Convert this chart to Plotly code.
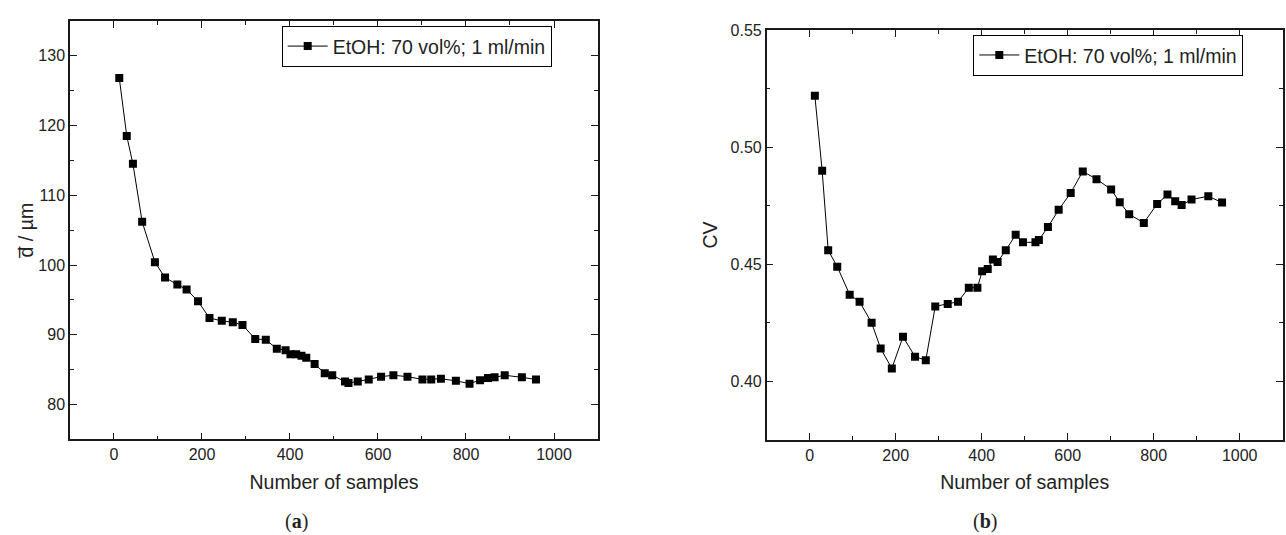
import plotly.graph_objects as go

# ---- data ----
n_samples = [12, 29, 43, 64, 93, 116, 144, 165, 191, 217, 245, 270, 292, 321, 345,
             370, 390, 401, 414, 426, 437, 456, 479, 496, 525, 533, 554, 579, 607,
             635, 667, 701, 721, 743, 777, 808, 832, 850, 865, 888, 927, 959]

d_mean = [126.8, 118.5, 114.5, 106.2, 100.4, 98.2, 97.2, 96.5, 94.8, 92.4, 92.0,
          91.8, 91.4, 89.4, 89.3, 88.0, 87.8, 87.2, 87.2, 87.0, 86.7, 85.8, 84.5,
          84.2, 83.3, 83.1, 83.3, 83.6, 84.0, 84.2, 84.0, 83.6, 83.6, 83.7, 83.4,
          83.0, 83.5, 83.8, 83.9, 84.2, 83.9, 83.6]

cv = [0.522, 0.490, 0.456, 0.449, 0.437, 0.434, 0.425, 0.414, 0.4055, 0.419,
      0.4105, 0.409, 0.432, 0.433, 0.434, 0.440, 0.440, 0.447, 0.448, 0.452,
      0.451, 0.456, 0.4626, 0.4594, 0.4594, 0.4604, 0.4659, 0.4733, 0.4805,
      0.4897, 0.4864, 0.482, 0.4765, 0.4714, 0.4677, 0.4758, 0.4798, 0.477,
      0.4753, 0.4777, 0.4791, 0.4764]

series_name = "EtOH: 70 vol%; 1 ml/min"
x_title = "Number of samples"
y_title_a = "d\u0305 / µm"
y_title_b = "CV"
captions = ["(<b>a</b>)", "(<b>b</b>)"]

FONT = "Liberation Sans, Arial, sans-serif"
AXC = "#1a1a1a"

fig = go.Figure()

fig.add_trace(go.Scatter(
    x=n_samples, y=d_mean, mode="lines+markers", name=series_name,
    line=dict(color="black", width=1),
    marker=dict(symbol="square", size=8, color="black"),
    xaxis="x", yaxis="y", legend="legend", showlegend=True,
))
fig.add_trace(go.Scatter(
    x=n_samples, y=cv, mode="lines+markers", name=series_name,
    line=dict(color="black", width=1),
    marker=dict(symbol="square", size=8, color="black"),
    xaxis="x2", yaxis="y2", legend="legend2", showlegend=True,
))

def axis_common():
    return dict(
        showline=True, linecolor=AXC, linewidth=1.5, mirror="ticks",
        ticks="inside", ticklen=7, tickwidth=1.2, tickcolor=AXC,
        showgrid=False, zeroline=False,
        tickfont=dict(family=FONT, size=16, color="#222"),
    )

xa = axis_common()
xa.update(range=[-100, 1100], tickvals=[0, 200, 400, 600, 800, 1000],
          minor=dict(dtick=100, tick0=0, ticks="inside", ticklen=4,
                     tickcolor=AXC, tickwidth=1.2, showgrid=False),
          title=dict(text=x_title, font=dict(family=FONT, size=19.5, color="#222"),
                     standoff=13))

legend_common = dict(xanchor="right", yanchor="middle",
                     bgcolor="white", bordercolor="black", borderwidth=1,
                     font=dict(family=FONT, size=19.5, color="#222"),
                     itemwidth=40, tracegroupgap=0, visible=True)

fig.update_layout(
    width=1286, height=535,
    margin=dict(l=0, r=0, t=0, b=0),
    paper_bgcolor="white", plot_bgcolor="white",
    showlegend=True,
    xaxis=dict(**xa, domain=[0.05443, 0.46501], anchor="y"),
    yaxis=dict(**axis_common(), domain=[0.18131, 0.97570], anchor="x",
               range=[75, 135], tickvals=[80, 90, 100, 110, 120, 130],
               minor=dict(dtick=5, tick0=0, ticks="inside", ticklen=4,
                          tickcolor=AXC, tickwidth=1.2, showgrid=False),
               title=dict(text=y_title_a, font=dict(family=FONT, size=19.5, color="#222"),
                          standoff=0)),
    xaxis2=dict(**xa, domain=[0.59619, 0.99743], anchor="y2"),
    yaxis2=dict(**axis_common(), domain=[0.18075, 0.95757], anchor="x2",
                range=[0.375, 0.55], tickvals=[0.40, 0.45, 0.50, 0.55],
                tickformat=".2f",
                minor=dict(dtick=0.025, tick0=0, ticks="inside", ticklen=4,
                           tickcolor=AXC, tickwidth=1.2, showgrid=False),
                title=dict(text=y_title_b, font=dict(family=FONT, size=19.5, color="#222"),
                           standoff=8)),
    legend=dict(x=0.4290, y=(535 - 39) / 535, **legend_common),
    legend2=dict(x=0.9668, y=(535 - 48) / 535, **legend_common),
    annotations=[
        dict(text=captions[0], x=296/1286, y=(535-521.7)/535, xref="paper", yref="paper",
             xanchor="center", yanchor="middle", showarrow=False,
             font=dict(family="Liberation Serif, DejaVu Serif, serif", size=20, color="#222")),
        dict(text=captions[1], x=985/1286, y=(535-521.7)/535, xref="paper", yref="paper",
             xanchor="center", yanchor="middle", showarrow=False,
             font=dict(family="Liberation Serif, DejaVu Serif, serif", size=20, color="#222")),
    ],
)

fig.write_html("out.html")
